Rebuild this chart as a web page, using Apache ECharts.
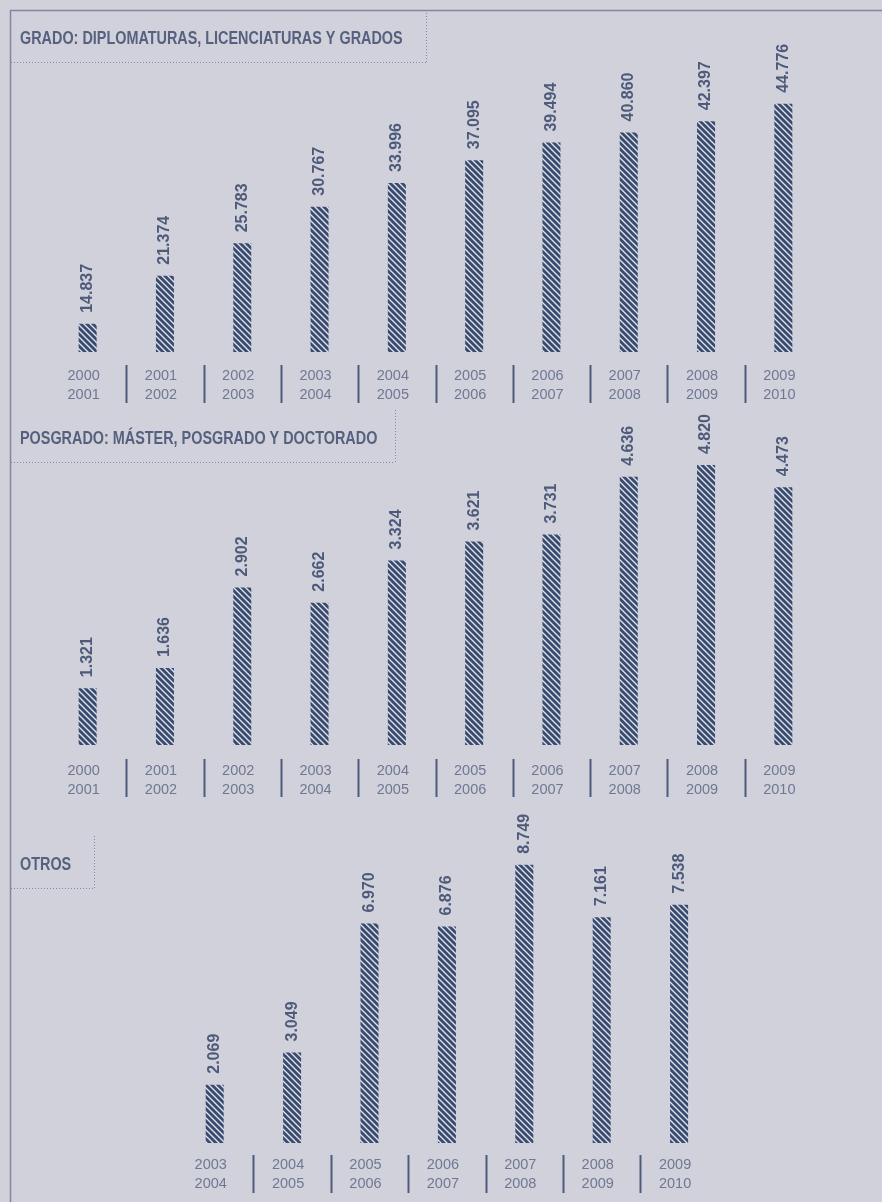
<!DOCTYPE html>
<html>
<head>
<meta charset="utf-8">
<script src="https://cdn.jsdelivr.net/npm/echarts@6/dist/echarts.min.js"></script>
<style>
  html, body { margin: 0; padding: 0; background: #d1d1db; }
  #chart { width: 882px; height: 1202px; }
</style>
</head>
<body>
<div id="chart"></div>
<script>
// Alumnos por curso académico
const courseCats = ['2000\n2001', '2001\n2002', '2002\n2003', '2003\n2004', '2004\n2005',
                    '2005\n2006', '2006\n2007', '2007\n2008', '2008\n2009', '2009\n2010'];
const gradoValues = [14837, 21374, 25783, 30767, 33996, 37095, 39494, 40860, 42397, 44776];
const posgradoValues = [1321, 1636, 2902, 2662, 3324, 3621, 3731, 4636, 4820, 4473];
const otrosCats = ['2003\n2004', '2004\n2005', '2005\n2006', '2006\n2007', '2007\n2008',
                   '2008\n2009', '2009\n2010'];
const otrosValues = [2069, 3049, 6970, 6876, 8749, 7161, 7538];
const panelTitles = ['GRADO: DIPLOMATURAS, LICENCIATURAS Y GRADOS',
                     'POSGRADO: MÁSTER, POSGRADO Y DOCTORADO',
                     'OTROS'];

const NAVY = '#3a4b70';
const LABEL = '#4d5a7a';
const CAT = '#6f7893';
const LINE = '#7f88a3';
const SANS = "'Liberation Sans', Arial, sans-serif";

// Diagonal hatch used to fill every bar
function hatchPattern() {
  const s = 6;
  const c = document.createElement('canvas');
  c.width = s; c.height = s;
  const g = c.getContext('2d');
  g.fillStyle = NAVY;
  g.fillRect(0, 0, s, s);
  g.strokeStyle = '#e4e5ee';
  g.lineWidth = 1.3;
  g.beginPath();
  g.moveTo(-1, -1); g.lineTo(s + 1, s + 1);
  g.moveTo(-1, s - 1); g.lineTo(1, s + 1);
  g.moveTo(s - 1, -1); g.lineTo(s + 1, 1);
  g.stroke();
  return c;
}
const hatch = { image: hatchPattern(), repeat: 'repeat' };

// Spanish thousands separator
function fmt(v) {
  return String(Math.round(v)).replace(/\B(?=(\d{3})+(?!\d))/g, '.');
}

// Panel geometry
const panels = [
  { cats: courseCats, values: gradoValues,    min: 11000, max: 48000, left: 49,  width: 773,   top: 80,  height: 272, labelMargin: 14, sepTop: 13 },
  { cats: courseCats, values: posgradoValues, min: 430,   max: 4900,  left: 49,  width: 773,   top: 460, height: 285, labelMargin: 16, sepTop: 14 },
  { cats: otrosCats,  values: otrosValues,    min: 300,   max: 9200,  left: 176, width: 541.8, top: 850, height: 293, labelMargin: 12, sepTop: 12 }
];

const grid = [], xAxis = [], yAxis = [], series = [];
panels.forEach((p, i) => {
  grid.push({ left: p.left, top: p.top, width: p.width, height: p.height });
  xAxis.push({
    type: 'category', gridIndex: i, data: p.cats,
    axisLine: { show: false }, axisTick: { show: false },
    axisLabel: {
      interval: 0, margin: p.labelMargin, color: CAT,
      fontFamily: SANS, fontSize: 14.5, lineHeight: 19,
      padding: [0, 8, 0, 0]
    }
  });
  yAxis.push({ type: 'value', gridIndex: i, min: p.min, max: p.max, show: false });
  series.push({
    type: 'bar', xAxisIndex: i, yAxisIndex: i, data: p.values,
    barWidth: 18,
    itemStyle: { color: hatch },
    label: {
      show: true, position: 'top', distance: 11, rotate: 90,
      align: 'left', verticalAlign: 'middle',
      formatter: (d) => fmt(d.value),
      color: LABEL, fontFamily: SANS, fontWeight: 'bold', fontSize: 16
    },
    silent: true
  });
  // separators between course columns
  series.push({
    type: 'custom', xAxisIndex: i, yAxisIndex: i, silent: true, clip: false,
    data: p.cats.slice(1).map((c, k) => [k + 1, p.min]),
    renderItem: (params, api) => {
      const band = api.size([1, 0])[0];
      const x = Math.round(api.coord([api.value(0), p.min])[0] - band / 2) + 0.5;
      const base = params.coordSys.y + params.coordSys.height;
      return {
        type: 'line',
        shape: { x1: x, y1: base + p.sepTop, x2: x, y2: base + p.sepTop + 38 },
        style: { stroke: '#4f5b7d', lineWidth: 2 }
      };
    }
  });
});

// Frame, title boxes and titles
const dotted = { stroke: LINE, lineWidth: 1, lineDash: [1, 2] };
const titleBoxes = [
  { title: panelTitles[0], ty: 39,  boxTop: 10,  boxBottom: 62,  boxRight: 426 },
  { title: panelTitles[1], ty: 439, boxTop: 410, boxBottom: 462, boxRight: 395 },
  { title: panelTitles[2], ty: 865, boxTop: 836, boxBottom: 888, boxRight: 94 }
];
const graphic = [
  { type: 'line', shape: { x1: 10, y1: 10.5, x2: 882, y2: 10.5 }, style: { stroke: LINE, lineWidth: 1.5 } },
  { type: 'line', shape: { x1: 10.5, y1: 10, x2: 10.5, y2: 1202 }, style: { stroke: LINE, lineWidth: 1.5 } }
];
titleBoxes.forEach(b => {
  graphic.push({ type: 'line', shape: { x1: 11, y1: b.boxBottom + 0.5, x2: b.boxRight, y2: b.boxBottom + 0.5 }, style: dotted });
  graphic.push({ type: 'line', shape: { x1: b.boxRight + 0.5, y1: b.boxTop, x2: b.boxRight + 0.5, y2: b.boxBottom }, style: dotted });
  // condensed bold heading
  graphic.push({
    type: 'text', x: 20, y: b.ty, scaleX: 0.8, scaleY: 1,
    style: {
      text: b.title, fill: '#56617f',
      font: 'bold 18px ' + SANS,
      textVerticalAlign: 'middle', verticalAlign: 'middle'
    }
  });
});

const chart = echarts.init(document.getElementById('chart'), null, { renderer: 'canvas' });
chart.setOption({
  backgroundColor: '#d1d1db',
  animation: false,
  grid, xAxis, yAxis, series, graphic
});
</script>
</body>
</html>
